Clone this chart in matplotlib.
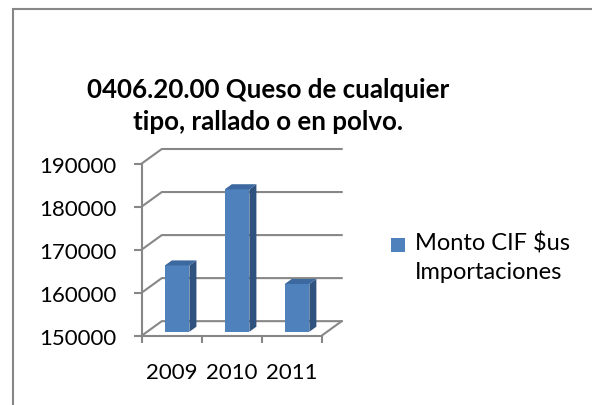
import matplotlib
matplotlib.use('Agg')
import matplotlib.pyplot as plt
from matplotlib.patches import Polygon, Rectangle

# datos
anios = ['2009', '2010', '2011']
montos = [165400, 183100, 161100]
y_ticks = [150000, 160000, 170000, 180000, 190000]
titulo = '0406.20.00 Queso de cualquier\ntipo, rallado o en polvo.'
serie = 'Monto CIF $us\nImportaciones'

plt.rcParams['font.family'] = ['Lato', 'DejaVu Sans']

W, H = 592, 406
gris = '#878787'
azul, azul_lado, azul_top = '#4F81BD', '#30527F', '#3C699F'

# efecto 3D (oblicuo) en unidades de datos
dx, dy = 0.335, 3380
t0, t1 = 0.27, 0.62     # profundidad de la barra
ancho = 0.41
base = y_ticks[0]
n = len(anios)

fig = plt.figure(figsize=(W / 100, H / 100), dpi=100)
ax = fig.add_axes([141.7 / W, (H - 336.7) / H, 200 / W, 186.7 / H])
ax.set_xlim(0, n + dx)
ax.set_ylim(base, y_ticks[-1] + dy)

# paredes y piso
for v in y_ticks:
    ax.plot([0, dx, n + dx], [v, v + dy, v + dy], color=gris, lw=1.5, zorder=1, clip_on=False)
ax.plot([n, n + dx], [base, base + dy], color=gris, lw=1.5, zorder=1, clip_on=False)

# barras
xs = [i + 0.5 + t0 * dx for i in range(n)]
alturas = [m - base for m in montos]
ax.bar(xs, alturas, width=ancho, bottom=base + t0 * dy, color=azul, zorder=3)
ddx, ddy = (t1 - t0) * dx, (t1 - t0) * dy
for x, m in zip(xs, montos):
    xl, xr = x - ancho / 2, x + ancho / 2
    b, top = base + t0 * dy, m + t0 * dy
    ax.add_patch(Polygon([(xr, b), (xr + ddx, b + ddy), (xr + ddx, top + ddy), (xr, top)],
                         closed=True, facecolor=azul_lado, edgecolor='none', zorder=3))
    ax.add_patch(Polygon([(xl, top), (xl + ddx, top + ddy), (xr + ddx, top + ddy), (xr, top)],
                         closed=True, facecolor=azul_top, edgecolor='none', zorder=3))

# ejes
for s in ['top', 'right']:
    ax.spines[s].set_visible(False)
for s in ['left', 'bottom']:
    ax.spines[s].set_color(gris)
    ax.spines[s].set_linewidth(1.5)
ax.spines['left'].set_bounds(base, y_ticks[-1])
ax.spines['bottom'].set_bounds(0, n)
ax.set_yticks(y_ticks)
ax.set_yticklabels([str(v) for v in y_ticks])
ax.tick_params(axis='y', length=6, width=1.5, color=gris, pad=12, labelsize=16)
ax.set_xticks(range(n + 1))
ax.set_xticklabels([])
ax.set_xticks([i + 0.5 for i in range(n)], minor=True)
ax.set_xticklabels(anios, minor=True)
ax.tick_params(axis='x', which='major', length=5, width=1.5, color=gris)
ax.tick_params(axis='x', which='minor', length=0, pad=19, labelsize=16)
ax.set_facecolor('none')

# titulo
fig.text(268 / W, 1 - 106 / H, titulo, ha='center', va='center', fontsize=18.6,
         fontweight='bold', linespacing=1.35)

# leyenda
fig.patches.append(Rectangle((391 / W, 1 - 253 / H), 14 / W, 14 / H, transform=fig.transFigure,
                             facecolor=azul, edgecolor='none'))
fig.text(415 / W, 1 - 233 / H, serie, ha='left', va='top', fontsize=17, linespacing=1.42)

# marco
fig.patches.append(Rectangle((12.5 / W, -0.1), 1.2, 1.1 - 10 / H, transform=fig.transFigure,
                             facecolor='none', edgecolor=gris, lw=1.5))

fig.savefig('out.png', dpi=100)
